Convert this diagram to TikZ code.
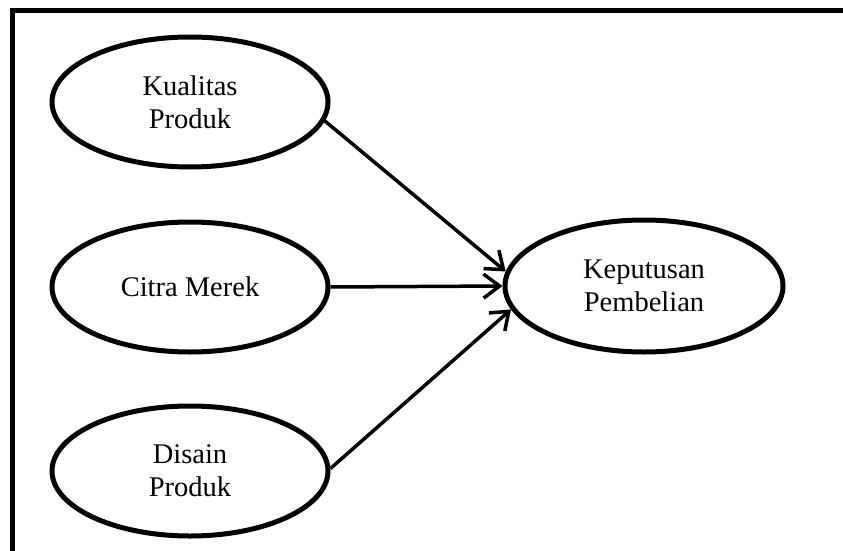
\documentclass[tikz,border=0pt]{standalone}
\usepackage{fontspec}
\setmainfont{Liberation Serif}
\usetikzlibrary{shapes.geometric,arrows.meta}
\begin{document}
\begin{tikzpicture}[x=1pt,y=-1pt,
  var/.style={draw,ellipse,line width=5pt,minimum width=276pt,minimum height=130pt,inner sep=0pt,
    align=center,font=\fontsize{28.5}{33}\selectfont},
  conn/.style={line width=3.5pt,-{Straight Barb[length=16pt,width=24pt,line width=3.5pt]}},
  frame/.style={line width=5pt}]
\useasboundingbox (0,0) rectangle (843,551);
\clip (0,0) rectangle (843,551);
\coordinate (ftl) at (12.5,11);
\coordinate (ftr) at (860,11);
\coordinate (fbl) at (12.5,570);
\draw[frame] (ftr) -- (ftl) -- (fbl);
\node[var] (k) at (190,102) {Kualitas\\Produk};
\node[var] (c) at (190,287) {Citra Merek};
\node[var] (d) at (190,471) {Disain\\Produk};
\node[var,minimum width=278pt,minimum height=132pt] (kp) at (644,286) {Keputusan\\Pembelian};
\draw[conn] (k.-8) -- (kp.174);
\draw[conn] (c.east) -- (kp.west);
\draw[conn] (d.1) -- (kp.190);
\end{tikzpicture}
\end{document}
